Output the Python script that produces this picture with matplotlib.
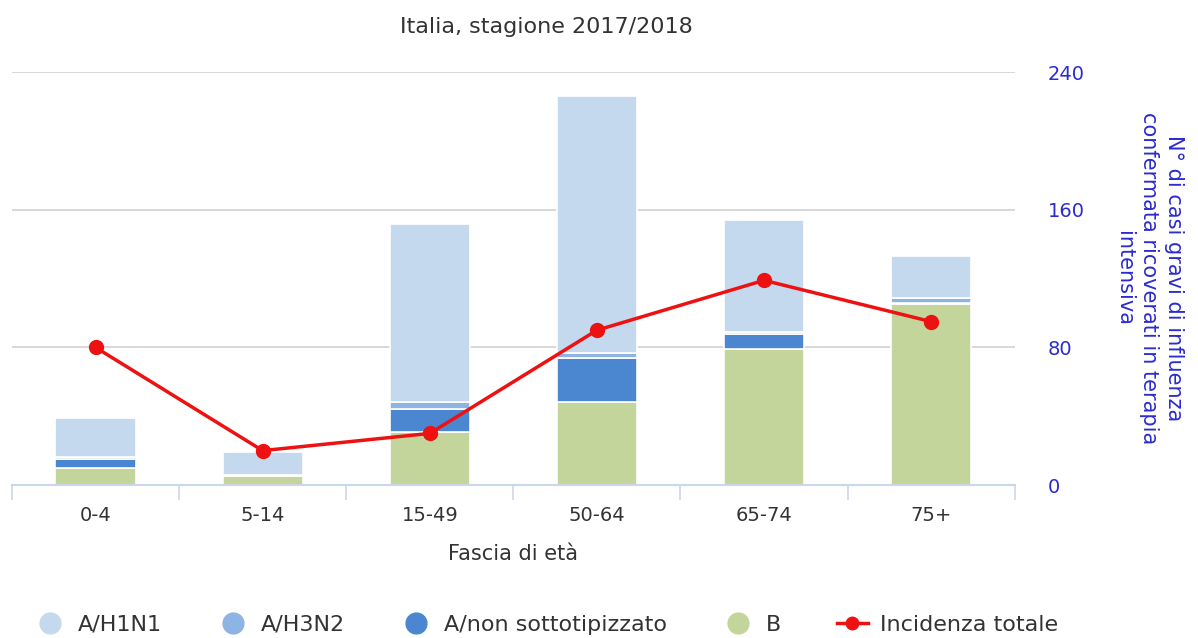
import matplotlib
matplotlib.use("Agg")
import matplotlib.pyplot as plt
from matplotlib.lines import Line2D
import numpy as np

plt.rcParams['font.family'] = ['DejaVu Sans']

# Age groups and confirmed severe cases by virus type
categories = ["0-4", "5-14", "15-49", "50-64", "65-74", "75+"]
b_cases = [10, 5, 31, 48, 79, 105]
a_nonsub = [5, 1, 13, 26, 9, 1]
a_h3n2 = [1, 0, 4, 3, 1, 3]
a_h1n1 = [23, 13, 104, 149, 65, 24]
incidenza = [80, 20, 30, 90, 119, 95]

series_names = ["A/H1N1", "A/H3N2", "A/non sottotipizzato", "B", "Incidenza totale"]
col_h1n1 = "#c4d8ee"
col_h3n2 = "#8db4e2"
col_nonsub = "#4a87d0"
col_b = "#c3d59b"
col_line = "#ee1111"
axis_blue = "#2b2bd0"
text_gray = "#333333"

fig = plt.figure(figsize=(11.98, 6.38), dpi=100)
ax = fig.add_axes([0.010, 0.2398, 0.837, 0.647])

x = np.arange(len(categories))
w = 0.48
bottom = np.zeros(len(categories))
for vals, col in [(b_cases, col_b), (a_nonsub, col_nonsub), (a_h3n2, col_h3n2), (a_h1n1, col_h1n1)]:
    v = np.array(vals, dtype=float)
    ax.bar(x, v, w, bottom=bottom, color=col, edgecolor="white", linewidth=1.2, zorder=2)
    bottom += v

ax.plot(x, incidenza, color=col_line, linewidth=2.5, marker="o", markersize=10, zorder=4)

ax.set_xlim(-0.5, len(categories) - 0.5)
ax.set_ylim(0, 240)

# right-hand value axis
ax.yaxis.tick_right()
ax.set_yticks([0, 80, 160, 240])
ax.tick_params(axis="y", length=0, pad=24, labelsize=14, labelcolor=axis_blue)
ax.grid(axis="y", color="#d8d8d8", linewidth=1.4, zorder=0)
fig.text(0.959, 0.564, "N° di casi gravi di influenza\nconfermata ricoverati in terapia\nintensiva",
         rotation=270, color=axis_blue, fontsize=15, ha="center", va="center",
         multialignment="center", linespacing=1.3, rotation_mode="anchor")

# category axis with ticks at group boundaries
ax.set_xticks(x)
ax.set_xticklabels(categories)
ax.tick_params(axis="x", length=0, pad=15, labelsize=14, labelcolor=text_gray)
ax.set_xticks(np.arange(-0.5, len(categories)), minor=True)
ax.tick_params(axis="x", which="minor", length=11, width=1.2, color="#ccd6eb")
ax.set_xlabel("Fascia di età", fontsize=15, color=text_gray, labelpad=14)

for s in ["top", "left", "right"]:
    ax.spines[s].set_visible(False)
ax.spines["bottom"].set_color("#ccd6eb")
ax.spines["bottom"].set_linewidth(1.5)
ax.spines["bottom"].set_zorder(3)

fig.text(0.456, 0.957, "Italia, stagione 2017/2018", ha="center", va="center",
         fontsize=16, color=text_gray)

handles = [
    Line2D([], [], linestyle="none", marker="o", markersize=15, color=col_h1n1),
    Line2D([], [], linestyle="none", marker="o", markersize=15, color=col_h3n2),
    Line2D([], [], linestyle="none", marker="o", markersize=15, color=col_nonsub),
    Line2D([], [], linestyle="none", marker="o", markersize=15, color=col_b),
    Line2D([], [], color=col_line, linewidth=2.5, marker="o", markersize=9),
]
fig.legend(handles, series_names, loc="center", bbox_to_anchor=(0.456, 0.021), ncol=5,
           frameon=False, fontsize=16, handlelength=1.4, handletextpad=0.55,
           columnspacing=2.5, labelcolor=text_gray, borderpad=0)

fig.savefig("out.png", dpi=100)
